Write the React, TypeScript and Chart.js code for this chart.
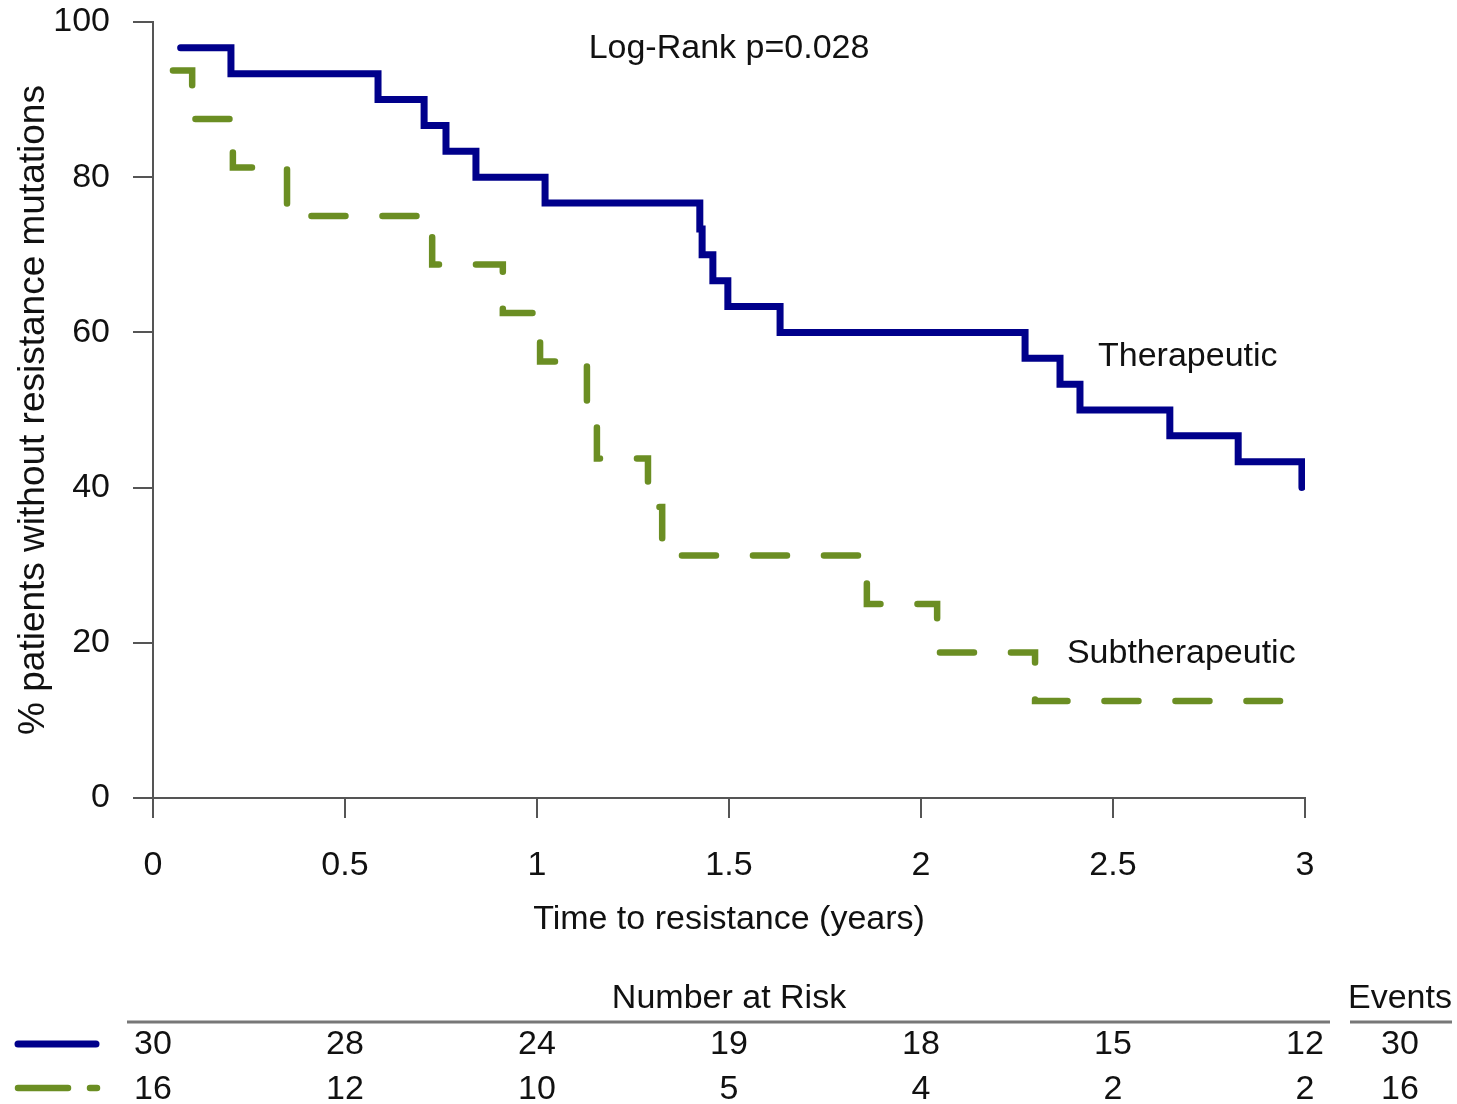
import React, { useEffect, useRef } from "react";
import { Chart, registerables } from "chart.js";

Chart.register(...registerables);

// ---- Data ----
const therapeuticTimes = [0.072, 0.203, 0.586, 0.706, 0.763, 0.841, 1.021, 1.424, 1.43, 1.458, 1.497, 1.633, 2.271, 2.362, 2.414, 2.648, 2.826, 2.992];
const therapeuticSurvival = [96.67, 93.33, 90, 86.67, 83.33, 80, 76.67, 73.33, 70, 66.67, 63.33, 60, 56.67, 53.33, 50, 46.67, 43.33, 40];

const subTimes = [0.052, 0.102, 0.208, 0.349, 0.727, 0.911, 1.008, 1.13, 1.156, 1.289, 1.326, 1.859, 2.042, 2.297, 2.935];
const subSurvival = [93.75, 87.5, 81.25, 75, 68.75, 62.5, 56.25, 50, 43.75, 37.5, 31.25, 25, 18.75, 12.5, 12.5];

const xTicks = [0, 0.5, 1, 1.5, 2, 2.5, 3];
const xTickLabels = ["0", "0.5", "1", "1.5", "2", "2.5", "3"];
const yTicks = [0, 20, 40, 60, 80, 100];
const yTickLabels = ["0", "20", "40", "60", "80", "100"];

const riskTherapeutic = [30, 28, 24, 19, 18, 15, 12];
const riskSubtherapeutic = [16, 12, 10, 5, 4, 2, 2];
const eventsTherapeutic = 30;
const eventsSubtherapeutic = 16;

const seriesNames = ["Therapeutic", "Subtherapeutic"];
const pValueText = "Log-Rank p=0.028";
const xTitle = "Time to resistance (years)";
const yTitle = "% patients without resistance mutations";
const riskTitle = "Number at Risk";
const eventsTitle = "Events";

// ---- Styles ----
const FONT = "'Liberation Sans', Arial, sans-serif";
const BLUE = "#00008B";
const GREEN = "#6B8E23";
const AXIS = "#555555";
const TEXT = "#111111";

const overlayPlugin = {
  id: "overlay",
  afterDraw(chart: any) {
    const { ctx } = chart;
    const xs = chart.scales.x;
    const ys = chart.scales.y;
    ctx.save();
    ctx.fillStyle = TEXT;
    ctx.font = `34px ${FONT}`;
    ctx.textBaseline = "middle";

    // p-value
    ctx.textAlign = "center";
    ctx.fillText(pValueText, xs.getPixelForValue(1.5), ys.getPixelForValue(96.6));

    // curve labels
    ctx.textAlign = "left";
    ctx.fillText(seriesNames[0], xs.getPixelForValue(2.461), ys.getPixelForValue(56.9));
    ctx.fillText(seriesNames[1], xs.getPixelForValue(2.38), ys.getPixelForValue(18.6));

    // Number at risk table
    const headerY = 999;
    const row1Y = 1045;
    const row2Y = 1090;
    ctx.textAlign = "center";
    ctx.fillText(riskTitle, xs.getPixelForValue(1.5), headerY);
    const eventsX = 1400;
    ctx.fillText(eventsTitle, eventsX, headerY);

    ctx.strokeStyle = "#777777";
    ctx.lineWidth = 3;
    ctx.beginPath();
    ctx.moveTo(127, 1022);
    ctx.lineTo(1330, 1022);
    ctx.moveTo(1350, 1022);
    ctx.lineTo(1452, 1022);
    ctx.stroke();

    xTicks.forEach((t, i) => {
      const px = xs.getPixelForValue(t);
      ctx.fillText(String(riskTherapeutic[i]), px, row1Y);
      ctx.fillText(String(riskSubtherapeutic[i]), px, row2Y);
    });
    ctx.fillText(String(eventsTherapeutic), eventsX, row1Y);
    ctx.fillText(String(eventsSubtherapeutic), eventsX, row2Y);

    // legend samples
    ctx.lineCap = "round";
    ctx.lineWidth = 7;
    ctx.strokeStyle = BLUE;
    ctx.beginPath();
    ctx.moveTo(18, 1044);
    ctx.lineTo(96, 1044);
    ctx.stroke();
    ctx.strokeStyle = GREEN;
    ctx.lineWidth = 6.5;
    ctx.setLineDash([50, 22]);
    ctx.beginPath();
    ctx.moveTo(18, 1088);
    ctx.lineTo(97, 1088);
    ctx.stroke();
    ctx.restore();
  },
};

export default function App() {
  const canvasRef = useRef<HTMLCanvasElement | null>(null);

  useEffect(() => {
    document.body.style.margin = "0";
    const canvas = canvasRef.current;
    if (!canvas) return;

    const chart = new Chart(canvas, {
      type: "line",
      data: {
        datasets: [
          {
            label: seriesNames[0],
            data: therapeuticTimes.map((t, i) => ({ x: t, y: therapeuticSurvival[i] })),
            stepped: true,
            borderColor: BLUE,
            borderWidth: 7,
            borderCapStyle: "round",
            borderJoinStyle: "miter",
            pointRadius: 0,
            fill: false,
          },
          {
            label: seriesNames[1],
            data: subTimes.map((t, i) => ({ x: t, y: subSurvival[i] })),
            stepped: true,
            borderColor: GREEN,
            borderWidth: 6.5,
            borderDash: [34, 37],
            borderDashOffset: 0,
            borderCapStyle: "round",
            borderJoinStyle: "miter",
            pointRadius: 0,
            fill: false,
          },
        ],
      },
      options: {
        animation: false,
        responsive: false,
        devicePixelRatio: 1,
        layout: { padding: { top: 22, right: 152, left: 0, bottom: 0 } },
        plugins: { legend: { display: false }, title: { display: false }, tooltip: { enabled: false } },
        events: [],
        scales: {
          x: {
            type: "linear",
            min: 0,
            max: 3,
            afterBuildTicks: (axis: any) => {
              axis.ticks = xTicks.map((v) => ({ value: v }));
            },
            afterFit: (axis: any) => {
              axis.height = 306;
              axis.paddingLeft = 0;
              axis.paddingRight = 0;
            },
            ticks: {
              autoSkip: false,
              maxRotation: 0,
              padding: 27,
              color: TEXT,
              font: { family: FONT, size: 34 },
              callback: (_v: any, i: number) => xTickLabels[i],
            },
            grid: { drawOnChartArea: false, drawTicks: true, tickLength: 20, color: AXIS, lineWidth: 2 },
            border: { display: true, color: AXIS, width: 2 },
            title: {
              display: true,
              text: xTitle,
              color: TEXT,
              font: { family: FONT, size: 34 },
              padding: { top: 0, bottom: 164 },
            },
          },
          y: {
            type: "linear",
            min: 0,
            max: 100,
            afterBuildTicks: (axis: any) => {
              axis.ticks = yTicks.map((v) => ({ value: v }));
            },
            afterFit: (axis: any) => {
              axis.width = 153;
              axis.paddingTop = 0;
              axis.paddingBottom = 0;
            },
            ticks: {
              autoSkip: false,
              padding: 23,
              color: TEXT,
              font: { family: FONT, size: 34 },
              callback: (_v: any, i: number) => yTickLabels[i],
            },
            grid: { drawOnChartArea: false, drawTicks: true, tickLength: 20, color: AXIS, lineWidth: 2 },
            border: { display: true, color: AXIS, width: 2 },
            title: {
              display: true,
              text: yTitle,
              color: TEXT,
              font: { family: FONT, size: 37 },
              padding: { top: 12, bottom: 0 },
            },
          },
        },
      },
      plugins: [overlayPlugin],
    } as any);

    return () => {
      chart.destroy();
    };
  }, []);

  return (
    <canvas
      ref={canvasRef}
      width={1457}
      height={1104}
      style={{ display: "block", width: "1457px", height: "1104px" }}
    />
  );
}
